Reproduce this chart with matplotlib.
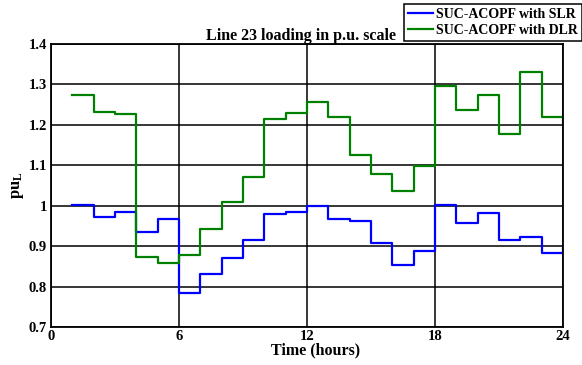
"""Line 23 loading in p.u. scale: SLR vs DLR step plot."""

import matplotlib

matplotlib.use("Agg")
import matplotlib.pyplot as plt

hours = list(range(1, 25))
slr_values = [1.002, 0.971, 0.984, 0.936, 0.966, 0.783, 0.830, 0.871,
              0.914, 0.979, 0.984, 0.999, 0.967, 0.962, 0.907, 0.854,
              0.888, 1.002, 0.957, 0.982, 0.915, 0.923, 0.883, 0.897]
dlr_values = [1.275, 1.231, 1.227, 0.873, 0.858, 0.879, 0.943, 1.008,
              1.070, 1.214, 1.229, 1.257, 1.219, 1.126, 1.079, 1.037,
              1.099, 1.297, 1.236, 1.274, 1.177, 1.330, 1.219, 1.205]
x_ticks = [0, 6, 12, 18, 24]
y_ticks = [0.7, 0.8, 0.9, 1.0, 1.1, 1.2, 1.3, 1.4]
y_tick_labels = ["0.7", "0.8", "0.9", "1", "1.1", "1.2", "1.3", "1.4"]

plt.rcParams["font.family"] = ["Liberation Serif", "DejaVu Serif"]
plt.rcParams["font.weight"] = "bold"
plt.rcParams["mathtext.fontset"] = "custom"
plt.rcParams["mathtext.rm"] = "Liberation Serif:bold"
plt.rcParams["mathtext.bf"] = "Liberation Serif:bold"
plt.rcParams["mathtext.it"] = "Liberation Serif:bold"


def main() -> None:
    fig = plt.figure(figsize=(5.82, 3.65), dpi=100)
    ax = fig.add_axes([51 / 582, 1 - 327 / 365, 512 / 582, 283 / 365])

    ax.step(hours, slr_values, where="post", color="#0000ff", lw=1.6,
            label="SUC-ACOPF with SLR")
    ax.step(hours, dlr_values, where="post", color="#008000", lw=1.6,
            label="SUC-ACOPF with DLR")

    ax.set_xlim(0, 24)
    ax.set_ylim(0.7, 1.4)
    ax.set_xticks(x_ticks)
    ax.set_yticks(y_ticks)
    ax.set_yticklabels(y_tick_labels)
    ax.grid(True, color="black", lw=1.1)
    ax.set_axisbelow(True)
    ax.tick_params(direction="in", length=0, labelsize=10.5)
    ax.tick_params(axis="x", pad=2)
    ax.tick_params(axis="y", pad=3)
    for spine in ax.spines.values():
        spine.set_linewidth(1.3)

    ax.set_title("Line 23 loading in p.u. scale", fontweight="bold",
                 fontsize=11.5, pad=3, x=0.488)
    ax.set_xlabel("Time (hours)", fontweight="bold", fontsize=11.5)
    ax.xaxis.set_label_coords((316 - 51) / 512, -0.055)
    ax.set_ylabel(r"pu$_\mathrm{L}$", fontweight="bold", fontsize=12)
    ax.yaxis.set_label_coords(-25 / 512, 0.5)

    leg = fig.legend(loc="upper right", bbox_to_anchor=(1.0, 0.99),
                     frameon=True, fancybox=False, edgecolor="black",
                     framealpha=1, handlelength=1.8, handletextpad=0.2,
                     borderpad=0.3, labelspacing=0.2, borderaxespad=0,
                     prop={"weight": "bold", "size": 10})
    leg.get_frame().set_linewidth(1.1)

    fig.savefig("out.png", dpi=100)
    plt.close(fig)


if __name__ == "__main__":
    main()
